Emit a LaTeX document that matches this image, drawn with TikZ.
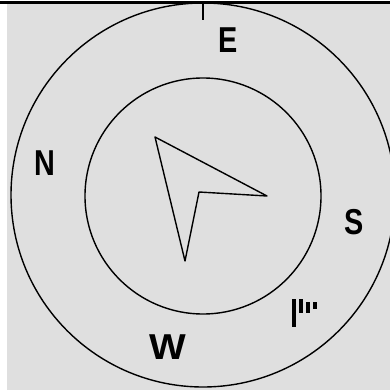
\documentclass[tikz,border=0pt]{standalone}
\usepackage{fontspec}
\setmainfont{Liberation Sans}
\usetikzlibrary{positioning}
\definecolor{dialgray}{RGB}{223,223,223}
\tikzset{
  ring/.style={line width=1.4pt},
  dirlabel/.style={font=\fontsize{36}{36}\selectfont\bfseries, inner sep=0pt, xscale=0.8}
}

\begin{document}
\begin{tikzpicture}[x=1pt, y=-1pt]
  \useasboundingbox (0,0) rectangle (390,390);
  % background
  \fill[dialgray] (7,4) rectangle (390,390);
  \fill[black] (0,1.5) rectangle (390,4);

  % rings
  \draw[ring] (203,195) circle (192);
  \draw[ring] (203,196) circle (118);
  \draw[ring] (203,4) -- (203,20);

  % labels
  \node[dirlabel] (east) at (228,40) {E};
  \node[dirlabel] (north) at (45,163.5) {N};
  \node[dirlabel] (south) at (354,222) {S};
  \node[dirlabel, xscale=1.35] (west) at (168,347) {W};

  % pointer
  \draw[ring, line join=round] (155,137) -- (267,196) -- (199,192) -- (185,261) -- cycle;

  % small mark
  \foreach \x/\a/\b in {292/299/327, 299/299/313, 306/302/313, 313/302/309} {
    \fill (\x,\a) rectangle (\x+4,\b);
  }
\end{tikzpicture}
\end{document}
